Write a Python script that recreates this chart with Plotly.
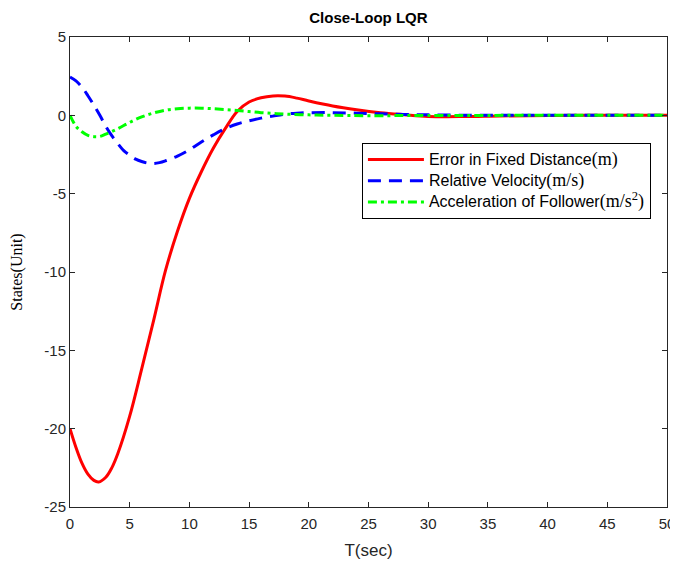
import plotly.graph_objects as go

# Data
t_red = [0, 0.5, 1, 1.5, 2, 2.4, 3, 3.5, 4, 5, 6, 7, 8, 9, 10, 11, 12, 13, 14, 15, 16, 17, 18, 19, 20, 22, 24, 26, 28, 30, 33, 36, 40, 45, 50]
y_red = [-20, -21.2, -22.2, -22.9, -23.3, -23.4, -23.1, -22.5, -21.6, -19.2, -16.2, -13.1, -9.9, -7.4, -5.3, -3.6, -2.1, -0.85, 0.25, 0.85, 1.12, 1.24, 1.23, 1.1, 0.92, 0.6, 0.36, 0.17, 0.04, -0.07, -0.08, -0.04, -0.01, 0, 0]

t_blue = [0, 0.5, 1, 1.5, 2, 2.5, 3, 3.5, 4, 4.5, 5, 5.5, 6, 6.5, 7, 7.5, 8, 9, 10, 11, 12, 13, 14, 15, 16, 17, 18, 19, 20, 22, 24, 26, 28, 30, 35, 40, 50]
y_blue = [2.45, 2.2, 1.8, 1.25, 0.65, 0.0, -0.7, -1.3, -1.8, -2.25, -2.55, -2.8, -2.95, -3.05, -3.08, -3.02, -2.9, -2.6, -2.2, -1.7, -1.25, -0.85, -0.55, -0.35, -0.18, -0.05, 0.07, 0.14, 0.17, 0.17, 0.14, 0.1, 0.06, 0.03, 0.0, 0.0, 0.0]

t_green = [0, 0.5, 1, 1.5, 2, 2.5, 3, 4, 5, 6, 7, 8, 9, 10, 11, 12, 13, 14, 15, 16, 17, 18, 20, 22, 25, 30, 40, 50]
y_green = [0, -0.7, -1.05, -1.28, -1.36, -1.35, -1.2, -0.85, -0.45, -0.1, 0.15, 0.33, 0.42, 0.46, 0.46, 0.42, 0.37, 0.31, 0.24, 0.17, 0.12, 0.08, 0.03, 0.0, -0.02, -0.01, 0, 0]

x_ticks = [0, 5, 10, 15, 20, 25, 30, 35, 40, 45, 50]
y_ticks = [-25, -20, -15, -10, -5, 0, 5]
y_tick_text = ["-25", "-20", "-15", "-10", "-5", "0", "5"]

SERIF = "font-family:Liberation Serif,Times New Roman,serif;font-size:18px"
SANS = "font-size:16px"
names = [
    "<span style='" + SANS + "'>Error in Fixed Distance</span><span style='" + SERIF + "'>(m)</span>",
    "<span style='" + SANS + "'>Relative Velocity</span><span style='" + SERIF + "'>(m/s)</span>",
    "<span style='" + SANS + "'>Acceleration of Follower</span><span style='" + SERIF + "'>(m/s<sup>2</sup>)</span>",
]

fig = go.Figure()
fig.add_trace(go.Scatter(x=t_red, y=y_red, mode="lines", name=names[0],
                         line=dict(color="#ff0000", width=3, shape="spline")))
fig.add_trace(go.Scatter(x=t_blue, y=y_blue, mode="lines", name=names[1],
                         line=dict(color="#0000ff", width=3, dash="13px,8px", shape="spline")))
fig.add_trace(go.Scatter(x=t_green, y=y_green, mode="lines", name=names[2],
                         line=dict(color="#00ff00", width=3, dash="9px,4px,3px,4px", shape="spline")))

axis_common = dict(
    showgrid=False, zeroline=False, showline=True, linecolor="#262626", linewidth=1,
    mirror="ticks", ticks="inside", ticklen=5, tickcolor="#262626", automargin=False,
    tickfont=dict(family="Arial, Liberation Sans, sans-serif", size=15, color="#262626"),
)

# The page body has an 8px margin, so the figure is sized 8px smaller
fig.update_layout(
    width=670, height=561,
    paper_bgcolor="white", plot_bgcolor="white",
    margin=dict(l=62, r=11, t=29, b=62),
    title=dict(text="<b>Close-Loop LQR</b>", x=0.538, xanchor="center", y=0.983, yanchor="middle",
               font=dict(family="Arial, Liberation Sans, sans-serif", size=15, color="black")),
    xaxis=dict(range=[0, 50], tickvals=x_ticks, ticklabelstandoff=3,
               title=dict(text="T(sec)", standoff=13,
                          font=dict(family="Arial, Liberation Sans, sans-serif", size=17, color="#262626")),
               **axis_common),
    yaxis=dict(range=[-25, 5], tickvals=y_ticks, ticktext=y_tick_text,
               title=dict(text="States(Unit)", standoff=17,
                          font=dict(family="Liberation Serif, Times New Roman, serif", size=16, color="black")),
               **axis_common),
    legend=dict(x=0.489, y=0.7745, xanchor="left", yanchor="top",
                bgcolor="white", bordercolor="black", borderwidth=1,
                font=dict(family="Arial, Liberation Sans, sans-serif", size=14, color="black"),
                tracegroupgap=0, itemwidth=56),
    showlegend=True,
)

fig.write_html("out.html")
